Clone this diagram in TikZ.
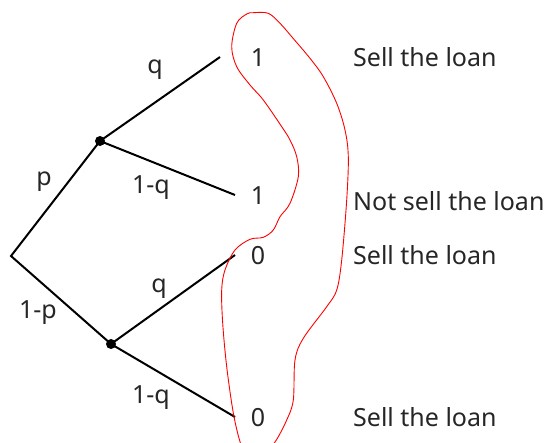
\documentclass[tikz,border=0pt]{standalone}
\usepackage{fontspec}
\setmainfont{Noto Sans}
\begin{document}
\begin{tikzpicture}[x=1pt,y=-1pt,
  branch/.style={line width=2pt,black},
  dot/.style={circle,fill=black,inner sep=0pt,minimum size=10pt},
  lbl/.style={inner sep=0pt,text=black!85,font=\fontsize{25}{29}\selectfont},
  txt/.style={inner sep=0pt,anchor=west,text=black!85,font=\fontsize{25}{29}\selectfont}]
\useasboundingbox (0,0) rectangle (553,442);
% nodes
\coordinate (root) at (11,256);
\node[dot] (up) at (100,141) {};
\node[dot] (lo) at (111,344) {};
\coordinate (e1) at (220,57);
\coordinate (e2) at (235,195);
\coordinate (e3) at (235,255);
\coordinate (e4) at (235,417);
% branches
\draw[branch] (up.center) -- (root) -- (lo.center);
\draw[branch] (up.center) -- (e1);
\draw[branch] (up.center) -- (e2);
\draw[branch] (lo.center) -- (e3);
\draw[branch] (lo.center) -- (e4);
% probability labels
\node[lbl] (lq1) at (155,70) {q};
\node[lbl] (lp) at (44,182) {p};
\node[lbl] (lq2) at (151,188) {1-q};
\node[lbl] (lq3) at (159,289) {q};
\node[lbl] (lp2) at (38,313) {1-p};
\node[lbl] (lq4) at (151,398) {1-q};
% payoffs
\node[lbl] (v1) at (258,58) {1};
\node[lbl] (v2) at (258,196) {1};
\node[lbl] (v3) at (258,256) {0};
\node[lbl] (v4) at (258,418) {0};
% actions
\node[txt] (a1) at (353,57) {Sell the loan};
\node[txt] (a2) at (353,201) {Not sell the loan};
\node[txt] (a3) at (353,255) {Sell the loan};
\node[txt] (a4) at (353,417) {Sell the loan};
% red freehand loop
\begin{scope}
\clip (0,0) rectangle (553,442);
\draw[red,line width=0.9pt] plot[smooth cycle,tension=0.55] coordinates {
 (253.3,12.7) (268.3,13.3) (280,23.3) (291.7,36.7) (310,58.3) (323.3,76.7)
 (336.7,103.3) (345,130) (348.3,156.7) (346.7,200) (341.7,260) (336.7,290)
 (326.7,306.7) (303.3,338.3) (295,360) (293.3,400) (286.7,420) (275,442)
 (262,455) (245,452)
 (240,441.7) (233.3,413) (226.7,366.7) (222.7,323.3) (221.7,290) (225,270)
 (235,250) (250,239.3) (263.3,237.3) (273.3,230) (280,216.7) (290,203.3)
 (298.3,176.7) (296.7,156.7) (290,140) (281.7,126.7) (263.3,100) (250,85)
 (236.7,66.7) (231.7,46.7) (236.7,23.3) (246.7,14)};
\end{scope}
\end{tikzpicture}
\end{document}
